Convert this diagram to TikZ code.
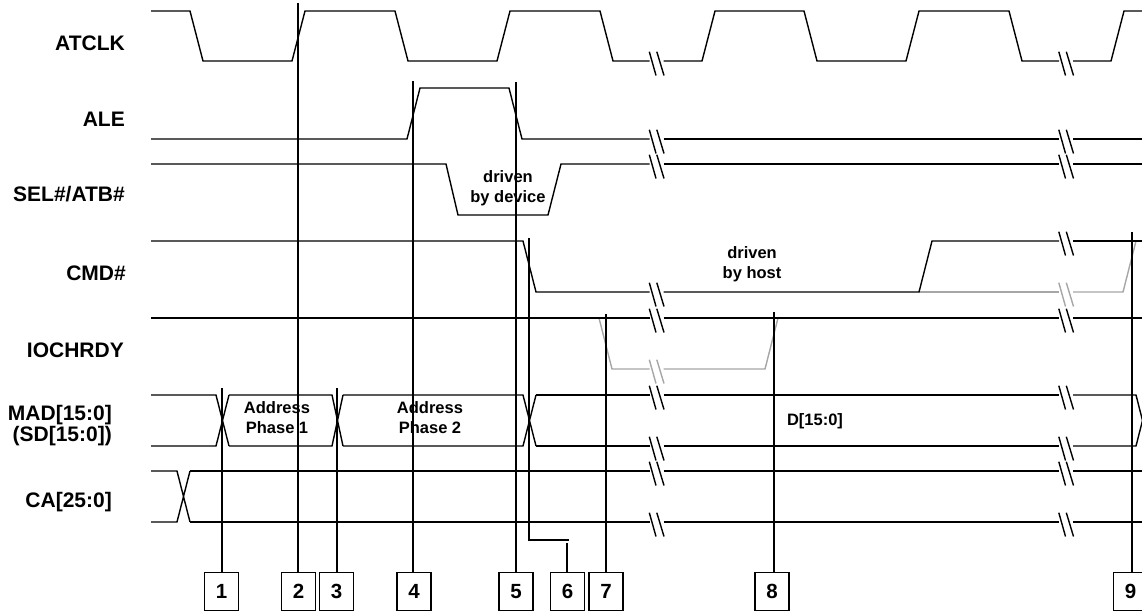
\documentclass[tikz,border=0pt]{standalone}
\usepackage{fontspec}
\setmainfont{Liberation Sans}
\newcommand{\bA}{656.5}
\newcommand{\bB}{1066}
% break mark: #1 style, #2 x centre, #3 y of line
\newcommand{\brkmk}[3]{\draw[#1] (#2-7.2,#3-9.3) -- (#2-0.5,#3+14.5) (#2+0.3,#3-9.3) -- (#2+7.5,#3+14.5);}
\begin{document}
\begin{tikzpicture}[x=1pt,y=-1pt,
  sig/.style={line width=1.4pt,black},
  ghost/.style={line width=1.4pt,black!35},
  lab/.style={font=\fontsize{21}{24}\selectfont\bfseries,anchor=base east,inner sep=0pt},
  txt/.style={font=\fontsize{16.5}{20}\selectfont\bfseries,align=center,inner sep=0pt},
  numbox/.style={draw,line width=1.4pt,minimum width=34pt,minimum height=38pt,inner sep=0pt,font=\fontsize{20.5}{24}\selectfont\bfseries},
  guide/.style={line width=1.4pt,black}]
\useasboundingbox (0,0) rectangle (1142,611);
\clip (0,0) rectangle (1142,611);

% ---------- signal names ----------
\node[lab] (lclk) at (125,50) {ATCLK};
\node[lab] (lale) at (125,126) {ALE};
\node[lab] (lsel) at (125,201) {SEL\#/ATB\#};
\node[lab] (lcmd) at (126,280) {CMD\#};
\node[lab] (lrdy) at (124,357) {IOCHRDY};
\node[lab] (lmad) at (112,420) {MAD[15:0]};
\node[lab] (lsd)  at (112,441) {(SD[15:0])};
\node[lab] (lca)  at (112,507) {CA[25:0]};

% ---------- ATCLK ----------
\draw[sig] (151,11) -- (190,11) -- (203,61) -- (292,61) -- (305,11) -- (395,11) -- (408,61) -- (497,61) -- (510,11) -- (600,11) -- (613,61) -- (\bA-7,61);
\draw[sig] (\bA+7,61) -- (702,61) -- (715,11) -- (804,11) -- (817,61) -- (906,61) -- (919,11) -- (1009,11) -- (1022,61) -- (\bB-7,61);
\draw[sig] (\bB+7,61) -- (1111,61) -- (1124,11) -- (1142,11);
\brkmk{sig}{\bA}{61}
\brkmk{sig}{\bB}{61}

% ---------- ALE ----------
\draw[sig] (151,139) -- (407,139) -- (420,88) -- (509,88) -- (522,139) -- (\bA-7,139);
\draw[sig] (\bA+7,139) -- (\bB-7,139);
\draw[sig] (\bB+7,139) -- (1142,139);
\brkmk{sig}{\bA}{139}
\brkmk{sig}{\bB}{139}

% ---------- SEL#/ATB# ----------
\draw[sig] (151,164) -- (446,164) -- (458,215) -- (548,215) -- (561,164) -- (\bA-7,164);
\draw[sig] (\bA+7,164) -- (\bB-7,164);
\draw[sig] (\bB+7,164) -- (1142,164);
\brkmk{sig}{\bA}{164}
\brkmk{sig}{\bB}{164}
\node[txt] (tdev) at (508,188) {driven\\by device};

% ---------- CMD# ----------
\draw[ghost] (919,292) -- (\bB-7,292);
\draw[ghost] (\bB+7,292) -- (1123,292) -- (1136,241);
\brkmk{ghost}{\bB}{292}
\draw[sig] (151,241) -- (523,241) -- (536,292) -- (\bA-7,292);
\draw[sig] (\bA+7,292) -- (919,292) -- (932,241) -- (\bB-7,241);
\draw[sig] (\bB+7,241) -- (1142,241);
\brkmk{sig}{\bA}{292}
\brkmk{sig}{\bB}{241}
\node[txt] (thost) at (752,264) {driven\\by host};

% ---------- IOCHRDY ----------
\draw[ghost] (599,318) -- (612,369) -- (\bA-7,369);
\draw[ghost] (\bA+7,369) -- (765,369) -- (778,318);
\brkmk{ghost}{\bA}{369}
\draw[sig] (151,318) -- (\bA-7,318);
\draw[sig] (\bA+7,318) -- (\bB-7,318);
\draw[sig] (\bB+7,318) -- (1142,318);
\brkmk{sig}{\bA}{318}
\brkmk{sig}{\bB}{318}

% ---------- MAD[15:0] ----------
\draw[sig] (151,395) -- (216,395) -- (229,446) (151,446) -- (216,446) -- (229,395);
\draw[sig] (229,395) -- (332,395) -- (343,446) (229,446) -- (332,446) -- (343,395);
\draw[sig] (343,395) -- (523,395) -- (536,446) (343,446) -- (523,446) -- (536,395);
\draw[sig] (536,395) -- (\bA-7,395) (536,446) -- (\bA-7,446);
\draw[sig] (\bA+7,395) -- (\bB-7,395) (\bA+7,446) -- (\bB-7,446);
\draw[sig] (\bB+7,395) -- (1136,395) -- (1149,446) (\bB+7,446) -- (1136,446) -- (1149,395);
\brkmk{sig}{\bA}{395}
\brkmk{sig}{\bB}{395}
\brkmk{sig}{\bA}{446}
\brkmk{sig}{\bB}{446}
\node[txt] (tap1) at (277,418) {Address\\Phase 1};
\node[txt] (tap2) at (430,418) {Address\\Phase 2};
\node[txt] (tdat) at (815,421) {D[15:0]};

% ---------- CA[25:0] ----------
\draw[sig] (151,471) -- (177,471) -- (190,522) (151,522) -- (177,522) -- (190,471);
\draw[sig] (190,471) -- (\bA-7,471) (190,522) -- (\bA-7,522);
\draw[sig] (\bA+7,471) -- (\bB-7,471) (\bA+7,522) -- (\bB-7,522);
\draw[sig] (\bB+7,471) -- (1142,471) (\bB+7,522) -- (1142,522);
\brkmk{sig}{\bA}{471}
\brkmk{sig}{\bB}{471}
\brkmk{sig}{\bA}{522}
\brkmk{sig}{\bB}{522}

% ---------- numbered boxes ----------
\foreach \n/\x in {1/221.5,2/298.5,3/336.5,4/414,5/516,6/567.5,7/606,8/772,9/1130.5}
  \node[numbox] (b\n) at (\x,591.7) {\n};

% ---------- timing guide lines ----------
\coordinate (t1) at (222,388);
\coordinate (t2) at (298,3);
\coordinate (t3) at (337,388);
\coordinate (t4) at (413,81);
\coordinate (t5) at (516,82);
\coordinate (t6) at (529,238);
\coordinate (k6) at (569,540);
\coordinate (u6) at (567,543);
\coordinate (t7) at (606,314);
\coordinate (t8) at (774,312);
\coordinate (t9) at (1132,232);
\draw[guide] (t1) -- (t1 |- b1.north);
\draw[guide] (t2) -- (t2 |- b2.north);
\draw[guide] (t3) -- (t3 |- b3.north);
\draw[guide] (t4) -- (t4 |- b4.north);
\draw[guide] (t5) -- (t5 |- b5.north);
\draw[guide] (t6) |- (k6);
\draw[guide] (u6) -- (u6 |- b6.north);
\draw[guide] (t7) -- (t7 |- b7.north);
\draw[guide] (t8) -- (t8 |- b8.north);
\draw[guide] (t9) -- (t9 |- b9.north);
\end{tikzpicture}
\end{document}
